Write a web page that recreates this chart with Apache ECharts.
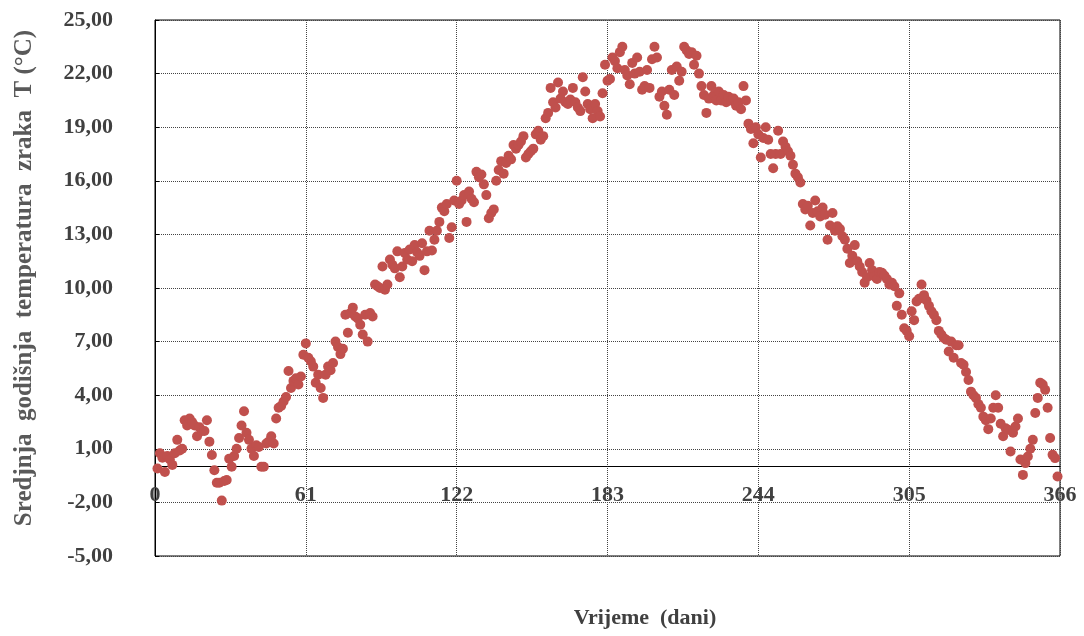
<!DOCTYPE html>
<html>
<head>
<meta charset="utf-8">
<script src="https://cdn.jsdelivr.net/npm/echarts@6/dist/echarts.min.js"></script>
<style>
html,body{margin:0;padding:0;background:#fff;}
#chart{width:1084px;height:636px;}
</style>
</head>
<body>
<div id="chart"></div>
<script>
// Mean daily air temperature (°C), day 1..365
const temps = [
 -0.1, 0.75, 0.5, -0.3, 0.6, 0.4, 0.1, 0.75, 1.5, 0.9,
 1.0, 2.6, 2.3, 2.7, 2.5, 2.3, 1.7, 2.2, 2.0, 2.0,
 2.6, 1.4, 0.65, -0.2, -0.9, -0.9, -1.9, -0.8, -0.75, 0.45,
 0.0, 0.6, 1.0, 1.6, 2.3, 3.1, 1.9, 1.5, 1.0, 0.6,
 1.2, 1.1, 0.0, 0.0, 1.3, 1.4, 1.7, 1.3, 2.7, 3.3,
 3.4, 3.65, 3.9, 5.35, 4.4, 4.8, 4.95, 4.6, 5.05, 6.26,
 6.9, 6.1, 5.9, 5.6, 4.7, 5.15, 4.4, 3.85, 5.15, 5.6,
 5.4, 5.8, 7.0, 6.7, 6.3, 6.6, 8.5, 7.5, 8.6, 8.9,
 8.4, 8.3, 7.95, 7.4, 8.5, 7.0, 8.6, 8.4, 10.2, 10.1,
 10.0, 11.2, 9.9, 10.2, 11.6, 11.3, 11.1, 12.05, 10.6, 11.2,
 11.96, 11.6, 12.15, 11.5, 12.4, 12.0, 11.8, 12.5, 11.0, 12.05,
 13.2, 12.1, 12.7, 13.2, 13.7, 14.5, 14.3, 14.7, 12.8, 13.4,
 14.9, 16.0, 14.7, 14.9, 15.2, 13.7, 15.4, 15.0, 14.8, 16.5,
 16.2, 16.35, 15.8, 15.2, 13.9, 14.2, 14.4, 16.0, 16.6, 17.1,
 16.4, 17.0, 17.4, 17.2, 18.0, 17.8, 18.0, 18.2, 18.5, 17.3,
 17.5, 17.65, 17.8, 18.6, 18.8, 18.3, 18.5, 19.5, 19.8, 21.2,
 20.4, 20.1, 21.5, 20.6, 21.0, 20.4, 20.3, 20.55, 21.2, 20.4,
 20.1, 19.9, 21.8, 21.0, 20.3, 20.0, 19.5, 20.3, 19.9, 19.6,
 20.9, 22.5, 21.6, 21.7, 22.9, 22.7, 22.3, 23.2, 23.5, 22.2,
 21.9, 21.4, 22.6, 22.0, 22.9, 22.1, 21.1, 21.3, 22.2, 21.2,
 22.8, 23.5, 22.9, 20.7, 21.0, 20.2, 19.7, 21.1, 22.2, 20.8,
 22.4, 21.6, 22.1, 23.5, 23.3, 23.1, 23.2, 22.5, 23.0, 22.0,
 21.3, 20.8, 19.8, 20.6, 21.3, 20.8, 20.5, 21.0, 20.5, 20.8,
 20.4, 20.7, 20.5, 20.6, 20.2, 20.4, 20.0, 21.3, 20.5, 19.2,
 18.9, 18.1, 19.0, 18.6, 17.3, 18.4, 19.0, 18.3, 17.5, 16.7,
 17.5, 18.8, 17.5, 18.2, 17.9, 17.65, 17.4, 16.9, 16.4, 16.2,
 15.9, 14.7, 14.4, 14.6, 13.5, 14.2, 14.9, 14.3, 14.0, 14.5,
 14.1, 12.7, 13.5, 14.2, 13.2, 13.45, 13.3, 12.9, 12.7, 12.2,
 11.4, 11.8, 12.4, 11.5, 11.2, 10.9, 10.3, 10.6, 11.4, 11.0,
 10.65, 10.5, 10.9, 10.85, 10.7, 10.5, 10.2, 10.3, 10.1, 9.0,
 9.7, 8.5, 7.75, 7.6, 7.3, 8.7, 8.2, 9.25, 9.4, 10.2,
 9.6, 9.3, 9.0, 8.7, 8.5, 8.2, 7.6, 7.4, 7.2, 7.1,
 6.45, 7.0, 6.1, 6.8, 6.8, 5.8, 5.7, 5.3, 4.85, 4.2,
 4.0, 3.85, 3.5, 3.3, 2.8, 2.6, 2.1, 2.7, 3.3, 4.0,
 3.3, 2.4, 1.7, 2.15, 2.06, 0.85, 1.9, 2.25, 2.7, 0.4,
 -0.46, 0.2, 0.57, 1.0, 1.5, 3.0, 3.85, 4.7, 4.6, 4.3,
 3.3, 1.6, 0.66, 0.48, -0.55
];
const days = temps.map((_, i) => i + 1);

const xTicks = [0, 61, 122, 183, 244, 305, 366];
const yTicks = [-5, -2, 1, 4, 7, 10, 13, 16, 19, 22, 25];

const xTitle = 'Vrijeme  (dani)';
const yTitle = 'Sredjnja  godišnja  temperatura  zraka  T (°C)';

const points = days.map((d, i) => [d, temps[i]]);

const chart = echarts.init(document.getElementById('chart'), null, {renderer: 'canvas'});
const serif = '"Liberation Serif", "Times New Roman", serif';
const dotted = {type: [1, 1], color: '#444', width: 1};

chart.setOption({
  animation: false,
  backgroundColor: '#fff',
  grid: {left: 155, right: 24, top: 20, bottom: 80, show: true, borderColor: '#000', borderWidth: 1, backgroundColor: 'transparent'},
  xAxis: {
    type: 'value',
    min: xTicks[0], max: xTicks[xTicks.length - 1], interval: xTicks[1] - xTicks[0],
    axisLine: {show: true, onZero: true, lineStyle: {color: '#000', width: 1}},
    axisTick: {show: false},
    axisLabel: {margin: -72, fontFamily: serif, fontWeight: 'bold', fontSize: 22, color: '#404040'},
    splitLine: {show: true, lineStyle: dotted}
  },
  yAxis: {
    type: 'value',
    min: yTicks[0], max: yTicks[yTicks.length - 1], interval: yTicks[1] - yTicks[0],
    axisLine: {show: true, onZero: false, lineStyle: {color: '#000'}},
    axisTick: {show: true, inside: true, length: 4, lineStyle: {color: '#000'}},
    axisLabel: {margin: 42, fontFamily: serif, fontWeight: 'bold', fontSize: 22, color: '#404040',
      formatter: v => v.toFixed(2).replace('.', ',')},
    splitLine: {show: true, lineStyle: dotted}
  },
  graphic: [
    {type: 'text', x: 645, y: 618, style: {text: xTitle, font: 'bold 22px ' + serif, fill: '#404040', align: 'center', verticalAlign: 'middle'}},
    {type: 'text', x: 25, y: 278, rotation: Math.PI / 2, style: {text: yTitle, font: 'bold 25px ' + serif, fill: '#595959', align: 'center', verticalAlign: 'middle'}}
  ],
  series: [{
    type: 'scatter',
    data: points,
    symbol: 'circle',
    symbolSize: 10,
    itemStyle: {color: '#C0504D', opacity: 1},
    z: 5
  }]
});
</script>
</body>
</html>
